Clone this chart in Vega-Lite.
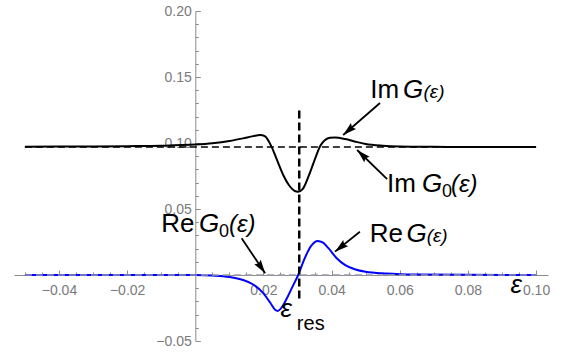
{
  "$schema": "https://vega.github.io/schema/vega-lite/v6.json",
  "width": 534,
  "height": 330,
  "autosize": "none",
  "padding": {"left": 14, "top": 11, "right": 17, "bottom": 13},
  "config": {"view": {"stroke": null}, "font": "Liberation Sans", "text": {"font": "Liberation Sans"}},
  "datasets": {
    "curves": [
      {"series": "Im G", "x": -0.05, "y": 0.0972},
      {"series": "Im G", "x": -0.04, "y": 0.0973},
      {"series": "Im G", "x": -0.03, "y": 0.0974},
      {"series": "Im G", "x": -0.02, "y": 0.0976},
      {"series": "Im G", "x": -0.01, "y": 0.0979},
      {"series": "Im G", "x": 0.0, "y": 0.0988},
      {"series": "Im G", "x": 0.005, "y": 0.0998},
      {"series": "Im G", "x": 0.01, "y": 0.1015},
      {"series": "Im G", "x": 0.014, "y": 0.1035},
      {"series": "Im G", "x": 0.017, "y": 0.1052},
      {"series": "Im G", "x": 0.019, "y": 0.106},
      {"series": "Im G", "x": 0.0205, "y": 0.105},
      {"series": "Im G", "x": 0.0215, "y": 0.1015},
      {"series": "Im G", "x": 0.0225, "y": 0.0965},
      {"series": "Im G", "x": 0.024, "y": 0.087},
      {"series": "Im G", "x": 0.0258, "y": 0.0758},
      {"series": "Im G", "x": 0.0275, "y": 0.068},
      {"series": "Im G", "x": 0.029, "y": 0.064},
      {"series": "Im G", "x": 0.0302, "y": 0.0631},
      {"series": "Im G", "x": 0.0315, "y": 0.065},
      {"series": "Im G", "x": 0.0332, "y": 0.0745},
      {"series": "Im G", "x": 0.035, "y": 0.087},
      {"series": "Im G", "x": 0.0367, "y": 0.098},
      {"series": "Im G", "x": 0.038, "y": 0.102},
      {"series": "Im G", "x": 0.0395, "y": 0.104},
      {"series": "Im G", "x": 0.041, "y": 0.1042},
      {"series": "Im G", "x": 0.044, "y": 0.103},
      {"series": "Im G", "x": 0.047, "y": 0.101},
      {"series": "Im G", "x": 0.05, "y": 0.0993},
      {"series": "Im G", "x": 0.055, "y": 0.098},
      {"series": "Im G", "x": 0.06, "y": 0.0974},
      {"series": "Im G", "x": 0.07, "y": 0.0971},
      {"series": "Im G", "x": 0.08, "y": 0.097},
      {"series": "Im G", "x": 0.1, "y": 0.097},
      {"series": "Re G", "x": -0.05, "y": 0.0},
      {"series": "Re G", "x": 0.0, "y": 0.0},
      {"series": "Re G", "x": 0.005, "y": -0.0004},
      {"series": "Re G", "x": 0.01, "y": -0.0015},
      {"series": "Re G", "x": 0.014, "y": -0.0038},
      {"series": "Re G", "x": 0.017, "y": -0.0072},
      {"series": "Re G", "x": 0.02, "y": -0.0139},
      {"series": "Re G", "x": 0.022, "y": -0.021},
      {"series": "Re G", "x": 0.0235, "y": -0.0265},
      {"series": "Re G", "x": 0.0242, "y": -0.0272},
      {"series": "Re G", "x": 0.0255, "y": -0.024},
      {"series": "Re G", "x": 0.027, "y": -0.017},
      {"series": "Re G", "x": 0.0285, "y": -0.009},
      {"series": "Re G", "x": 0.0302, "y": 0.0},
      {"series": "Re G", "x": 0.032, "y": 0.012},
      {"series": "Re G", "x": 0.034, "y": 0.022},
      {"series": "Re G", "x": 0.0359, "y": 0.0258},
      {"series": "Re G", "x": 0.0375, "y": 0.0245},
      {"series": "Re G", "x": 0.039, "y": 0.0205},
      {"series": "Re G", "x": 0.0415, "y": 0.0127},
      {"series": "Re G", "x": 0.044, "y": 0.0075},
      {"series": "Re G", "x": 0.047, "y": 0.0042},
      {"series": "Re G", "x": 0.05, "y": 0.0025},
      {"series": "Re G", "x": 0.056, "y": 0.0012},
      {"series": "Re G", "x": 0.065, "y": 0.0004},
      {"series": "Re G", "x": 0.08, "y": 0.0001},
      {"series": "Re G", "x": 0.1, "y": 0.0}
    ],
    "arrows": [
      {"x": 0.0542, "y": 0.1303, "x2": 0.0434, "y2": 0.1061},
      {"x": 0.0563, "y": 0.0727, "x2": 0.0475, "y2": 0.0947},
      {"x": 0.0136, "y": 0.0278, "x2": 0.0205, "y2": 0.0013},
      {"x": 0.0483, "y": 0.0328, "x2": 0.041, "y2": 0.0177}
    ],
    "textMain": [
      {"x": 0.05135, "y": 0.1339, "t": "Im"},
      {"x": 0.05625, "y": 0.0631, "t": "Im"},
      {"x": -0.00998, "y": 0.0328, "t": "Re"},
      {"x": 0.05118, "y": 0.0248, "t": "Re"}
    ],
    "textItalic": [
      {"x": 0.06095, "y": 0.1339, "t": "G"},
      {"x": 0.06652, "y": 0.0631, "t": "G"},
      {"x": 0.00109, "y": 0.0328, "t": "G"},
      {"x": 0.06198, "y": 0.0248, "t": "G"},
      {"x": 0.025, "y": -0.0316, "t": "ε"},
      {"x": 0.0925, "y": -0.0139, "t": "ε"}
    ],
    "textItalicMid": [
      {"x": 0.07505, "y": 0.0631, "t": "(ε)"},
      {"x": 0.00989, "y": 0.0328, "t": "(ε)"}
    ],
    "textItalicSmall": [
      {"x": 0.06696, "y": 0.1339, "t": "(ε)"},
      {"x": 0.0679, "y": 0.0248, "t": "(ε)"}
    ],
    "textSub": [
      {"x": 0.07239, "y": 0.0593, "t": "0"},
      {"x": 0.00695, "y": 0.029, "t": "0"}
    ],
    "textRes": [
      {"x": 0.0298, "y": -0.0417, "t": "res"}
    ]
  },
  "encoding": {
    "x": {
      "field": "x", "type": "quantitative",
      "scale": {"domain": [-0.0532, 0.1035], "nice": false, "zero": false},
      "axis": {
        "title": null, "offset": -66, "grid": false, "zindex": 0,
        "values": [-0.05,-0.045,-0.04,-0.035,-0.03,-0.025,-0.02,-0.015,-0.01,-0.005,0.005,0.01,0.015,0.02,0.025,0.03,0.035,0.04,0.045,0.05,0.055,0.06,0.065,0.07,0.075,0.08,0.085,0.09,0.095,0.1],
        "labelExpr": "abs(datum.value/0.02 - round(datum.value/0.02)) < 1e-6 ? format(datum.value, '.2f') : ''",
        "labelFont": "Liberation Sans", "labelFontSize": 14, "labelColor": "#7a7a7a",
        "labelOverlap": false, "labelFlush": false, "labelBaseline": "top", "labelPadding": 13,
        "domainColor": "#8c8c8c", "domainWidth": 1, "tickColor": "#8c8c8c", "tickWidth": 1,
        "tickSize": {"condition": {"test": "abs(datum.value/0.02 - round(datum.value/0.02)) < 1e-6", "value": -5}, "value": -3}
      }
    },
    "y": {
      "field": "y", "type": "quantitative",
      "scale": {"domain": [-0.05, 0.2], "nice": false, "zero": false},
      "axis": {
        "title": null, "offset": -181.3, "grid": false, "zindex": 0,
        "values": [-0.05,-0.04,-0.03,-0.02,-0.01,0.01,0.02,0.03,0.04,0.05,0.06,0.07,0.08,0.09,0.1,0.11,0.12,0.13,0.14,0.15,0.16,0.17,0.18,0.19,0.2],
        "labelExpr": "abs(datum.value/0.05 - round(datum.value/0.05)) < 1e-6 ? format(datum.value, '.2f') : ''",
        "labelFont": "Liberation Sans", "labelFontSize": 14, "labelColor": "#7a7a7a",
        "labelOverlap": false, "labelFlush": false, "labelPadding": 9,
        "domainColor": "#8c8c8c", "domainWidth": 1, "tickColor": "#8c8c8c", "tickWidth": 1,
        "tickSize": {"condition": {"test": "abs(datum.value/0.05 - round(datum.value/0.05)) < 1e-6", "value": -5}, "value": -3}
      }
    }
  },
  "layer": [
    {
      "data": {"name": "curves"},
      "mark": {"type": "line", "strokeWidth": 2, "interpolate": "monotone"},
      "encoding": {
        "color": {"field": "series", "type": "nominal", "scale": {"domain": ["Im G", "Re G"], "range": ["#000000", "#0000ff"]}, "legend": null}
      }
    },
    {
      "data": {"values": [{"x": -0.05, "x2": 0.1, "y": 0.0}]},
      "mark": {"type": "rule", "color": "#9a9aaa", "strokeWidth": 1.5, "strokeDash": [7, 4]},
      "encoding": {"x2": {"field": "x2"}}
    },
    {
      "data": {"values": [{"x": -0.05, "x2": 0.1, "y": 0.097}]},
      "mark": {"type": "rule", "color": "#000000", "strokeWidth": 1.6, "strokeDash": [7, 4]},
      "encoding": {"x2": {"field": "x2"}}
    },
    {
      "data": {"values": [{"x": 0.0305, "y": -0.0178, "y2": 0.125}]},
      "mark": {"type": "rule", "color": "#000000", "strokeWidth": 2.5, "strokeDash": [8, 4]},
      "encoding": {"y2": {"field": "y2"}}
    },
    {
      "data": {"name": "arrows"},
      "mark": {"type": "rule", "color": "#000000", "strokeWidth": 1.8},
      "encoding": {"x2": {"field": "x2"}, "y2": {"field": "y2"}}
    },
    {
      "data": {"name": "arrows"},
      "transform": [{"calculate": "atan2((datum.x2 - datum.x) * 3408, (datum.y2 - datum.y) * 1320) * 180 / PI", "as": "ang"}],
      "mark": {"type": "point", "shape": "M0,0L-0.6,2.1L0,1.8L0.6,2.1Z", "filled": true, "color": "#000000", "opacity": 1, "size": 169, "strokeWidth": 0},
      "encoding": {
        "x": {"field": "x2", "type": "quantitative"},
        "y": {"field": "y2", "type": "quantitative"},
        "angle": {"field": "ang", "type": "quantitative", "scale": null}
      }
    },
    {
      "data": {"name": "textMain"},
      "mark": {"type": "text", "align": "left", "baseline": "alphabetic", "fontSize": 26, "font": "Liberation Sans", "color": "#000000"},
      "encoding": {"text": {"field": "t"}}
    },
    {
      "data": {"name": "textItalic"},
      "mark": {"type": "text", "align": "left", "baseline": "alphabetic", "fontSize": 26, "fontStyle": "italic", "font": "Liberation Sans", "color": "#000000"},
      "encoding": {"text": {"field": "t"}}
    },
    {
      "data": {"name": "textItalicMid"},
      "mark": {"type": "text", "align": "left", "baseline": "alphabetic", "fontSize": 24, "fontStyle": "italic", "font": "Liberation Sans", "color": "#000000"},
      "encoding": {"text": {"field": "t"}}
    },
    {
      "data": {"name": "textItalicSmall"},
      "mark": {"type": "text", "align": "left", "baseline": "alphabetic", "fontSize": 19, "fontStyle": "italic", "font": "Liberation Sans", "color": "#000000"},
      "encoding": {"text": {"field": "t"}}
    },
    {
      "data": {"name": "textSub"},
      "mark": {"type": "text", "align": "left", "baseline": "alphabetic", "fontSize": 18, "font": "Liberation Sans", "color": "#000000"},
      "encoding": {"text": {"field": "t"}}
    },
    {
      "data": {"name": "textRes"},
      "mark": {"type": "text", "align": "left", "baseline": "alphabetic", "fontSize": 20, "font": "Liberation Sans", "color": "#000000"},
      "encoding": {"text": {"field": "t"}}
    }
  ]
}
